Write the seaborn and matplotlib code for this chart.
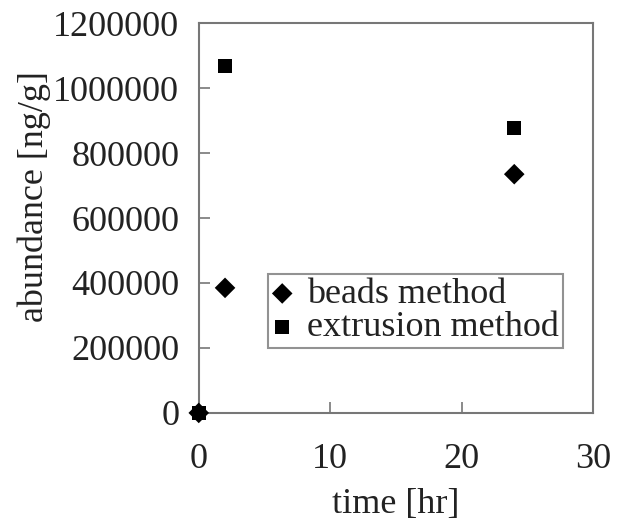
import numpy as np
import pandas as pd
import matplotlib
matplotlib.use("Agg")
import matplotlib.pyplot as plt
import seaborn as sns

# values
time_hr = [0, 2, 24]
beads_abundance = [0, 385000, 735000]
extrusion_abundance = [0, 1068000, 878000]
series_names = ["beads method", "extrusion method"]
x_ticks = [0, 10, 20, 30]
y_ticks = [0, 200000, 400000, 600000, 800000, 1000000, 1200000]

df = pd.DataFrame({
    "time": time_hr * 2,
    "abundance": beads_abundance + extrusion_abundance,
    "method": [series_names[0]] * len(time_hr) + [series_names[1]] * len(time_hr),
})

sns.set_style("ticks")
plt.rcParams["font.family"] = ["Liberation Serif", "DejaVu Serif"]
plt.rcParams["font.size"] = 26

fig = plt.figure(figsize=(6.25, 5.26), dpi=100)
ax = fig.add_axes([0.318, 0.215, 0.631, 0.741])

# draw extrusion first so the diamond at the origin sits on top
sns.scatterplot(data=df[df["method"] == series_names[1]], x="time", y="abundance",
                marker="s", s=100, color="black", edgecolor="none",
                label=series_names[1], ax=ax, clip_on=False, zorder=3)
sns.scatterplot(data=df[df["method"] == series_names[0]], x="time", y="abundance",
                marker="D", s=110, color="black", edgecolor="none",
                label=series_names[0], ax=ax, clip_on=False, zorder=4)

ax.set_xlim(0, 30)
ax.set_ylim(0, 1200000)
ax.set_xticks(x_ticks)
ax.set_yticks(y_ticks)
ax.set_xticklabels([str(t) for t in x_ticks])
ax.set_yticklabels([str(t) for t in y_ticks])
ax.set_xlabel("time [hr]", labelpad=8, color="#222222")
ax.set_ylabel("abundance [ng/g]", color="#222222")
ax.yaxis.set_label_coords(-0.375, 0.555)

for sp in ax.spines.values():
    sp.set_color("#777777")
    sp.set_linewidth(1.5)
ax.tick_params(direction="in", length=8, width=1.2, color="#777777",
               labelcolor="#222222")
ax.tick_params(axis="x", pad=22)
ax.tick_params(axis="y", pad=14)

handles, labels = ax.get_legend_handles_labels()
order = [labels.index(n) for n in series_names]
leg = ax.legend([handles[i] for i in order], [labels[i] for i in order],
                loc="lower left", bbox_to_anchor=(0.175, 0.167),
                frameon=True, fancybox=False, edgecolor="#777777",
                handlelength=0.6, handletextpad=0.4, borderpad=0.1,
                labelspacing=0.0, borderaxespad=0, fontsize=26)
leg.get_frame().set_linewidth(1.5)
for t in leg.get_texts():
    t.set_color("#222222")

fig.savefig("out.png", dpi=100)
